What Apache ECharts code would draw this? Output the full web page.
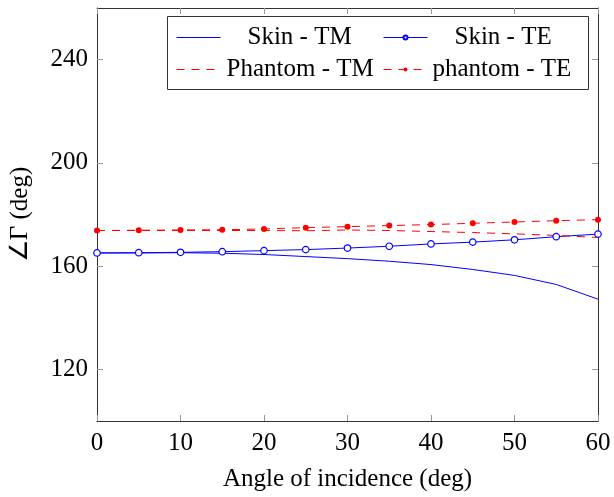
<!DOCTYPE html>
<html>
<head>
<meta charset="utf-8">
<script src="https://cdn.jsdelivr.net/npm/echarts@6/dist/echarts.min.js"></script>
<style>html,body{margin:0;padding:0;background:#fff}#c{width:614px;height:497px}</style>
</head>
<body>
<div id="c"></div>
<script>
const angles = [0,5,10,15,20,25,30,35,40,45,50,55,60];
const skinTM = [165.1,165.1,165.2,165.0,164.5,163.7,162.9,161.9,160.6,158.7,156.4,152.9,147.2];
const skinTE = [165.1,165.2,165.35,165.6,166.0,166.4,167.0,167.7,168.6,169.3,170.2,171.4,172.4];
const phantomTM = [173.8,173.8,173.8,173.8,173.8,173.7,174.0,173.8,173.4,173.0,172.5,171.9,171.1];
const phantomTE = [173.8,173.9,174.0,174.1,174.4,174.9,175.3,175.7,176.1,176.6,177.1,177.6,178.0];
const yTicks = [120,160,200,240];
const xTicks = [0,10,20,30,40,50,60];

const font = 'Liberation Serif';
const FS = 25;
const pair = a => angles.map((x,i)=>[x,a[i]]);
const chart = echarts.init(document.getElementById('c'), null, {renderer:'canvas'});
const axisLine = () => ({show:true, onZero:false, lineStyle:{color:'#333', width:1}});
const tick = () => ({show:true, inside:true, length:6, lineStyle:{color:'#999', width:1}});
const legendBase = {orient:'horizontal', itemWidth:44, itemHeight:5, padding:0, itemGap:0};
const ts = pad => ({fontFamily:font, fontSize:FS, color:'#000', padding:[0,0,0,pad]});
const dash = [8,7];
chart.setOption({
  animation:false,
  backgroundColor:'#fff',
  grid:{left:97, right:16, top:8, bottom:72},
  xAxis:[{
    type:'value', min:0, max:60, interval:10, position:'bottom',
    axisLine:axisLine(), axisTick:tick(), splitLine:{show:false},
    axisLabel:{fontFamily:font, fontSize:FS, color:'#000', margin:10},
    name:'Angle of incidence (deg)', nameLocation:'middle', nameGap:46, nameMoveOverlap:false,
    nameTextStyle:{fontFamily:font, fontSize:FS, color:'#000'}
  },{
    type:'value', min:0, max:60, interval:10, position:'top',
    axisLine:axisLine(), axisTick:tick(), splitLine:{show:false}, axisLabel:{show:false}
  }],
  yAxis:[{
    type:'value', min:100, max:260, position:'left',
    axisLine:axisLine(), axisTick:Object.assign(tick(), {customValues:yTicks}), splitLine:{show:false},
    axisLabel:{customValues:yTicks, fontFamily:font, fontSize:FS, color:'#000', margin:9},
    name:'∠Γ (deg)', nameLocation:'middle', nameGap:64, nameRotate:90, nameMoveOverlap:false,
    nameTextStyle:{fontFamily:font, fontSize:FS, color:'#000'}
  },{
    type:'value', min:100, max:260, position:'right',
    axisLine:axisLine(), axisTick:Object.assign(tick(), {customValues:yTicks}), splitLine:{show:false}, axisLabel:{show:false}
  }],
  legend:[
    Object.assign({}, legendBase, {data:[{name:'Skin - TM', itemStyle:{opacity:0}, lineStyle:{color:'#0000ff', width:1}}], left:176, top:25, textStyle:ts(22)}),
    Object.assign({}, legendBase, {data:[{name:'Skin - TE', lineStyle:{color:'#0000ff', width:1}}], left:383, top:25, textStyle:ts(22)}),
    Object.assign({}, legendBase, {data:[{name:'Phantom - TM', itemStyle:{opacity:0}, lineStyle:{color:'#ff0000', width:1, type:dash}}], left:176, top:57, textStyle:ts(1)}),
    Object.assign({}, legendBase, {data:[{name:'phantom - TE', lineStyle:{color:'#ff0000', width:1, type:dash}}], left:383, top:57, textStyle:ts(0)})
  ],
  graphic:[{type:'rect', shape:{x:167.5, y:16.5, width:421, height:73}, style:{fill:'#fff', stroke:'#333', lineWidth:1}, z:-1}],
  series:[
    {name:'Skin - TM', type:'line', data:pair(skinTM), showSymbol:false, symbol:'none', lineStyle:{color:'#0000ff', width:1}, itemStyle:{color:'#0000ff'}},
    {name:'Skin - TE', type:'line', data:pair(skinTE), symbol:'circle', symbolSize:6.5, lineStyle:{color:'#0000ff', width:1}, itemStyle:{color:'#fff', borderColor:'#0000ff', borderWidth:1.2}},
    {name:'Phantom - TM', type:'line', data:pair(phantomTM), symbol:'none', lineStyle:{color:'#ff0000', width:1, type:dash}, itemStyle:{color:'#ff0000'}},
    {name:'phantom - TE', type:'line', data:pair(phantomTE), symbol:'circle', symbolSize:6, lineStyle:{color:'#ff0000', width:1, type:dash}, itemStyle:{color:'#ff0000'}}
  ]
});
</script>
</body>
</html>
